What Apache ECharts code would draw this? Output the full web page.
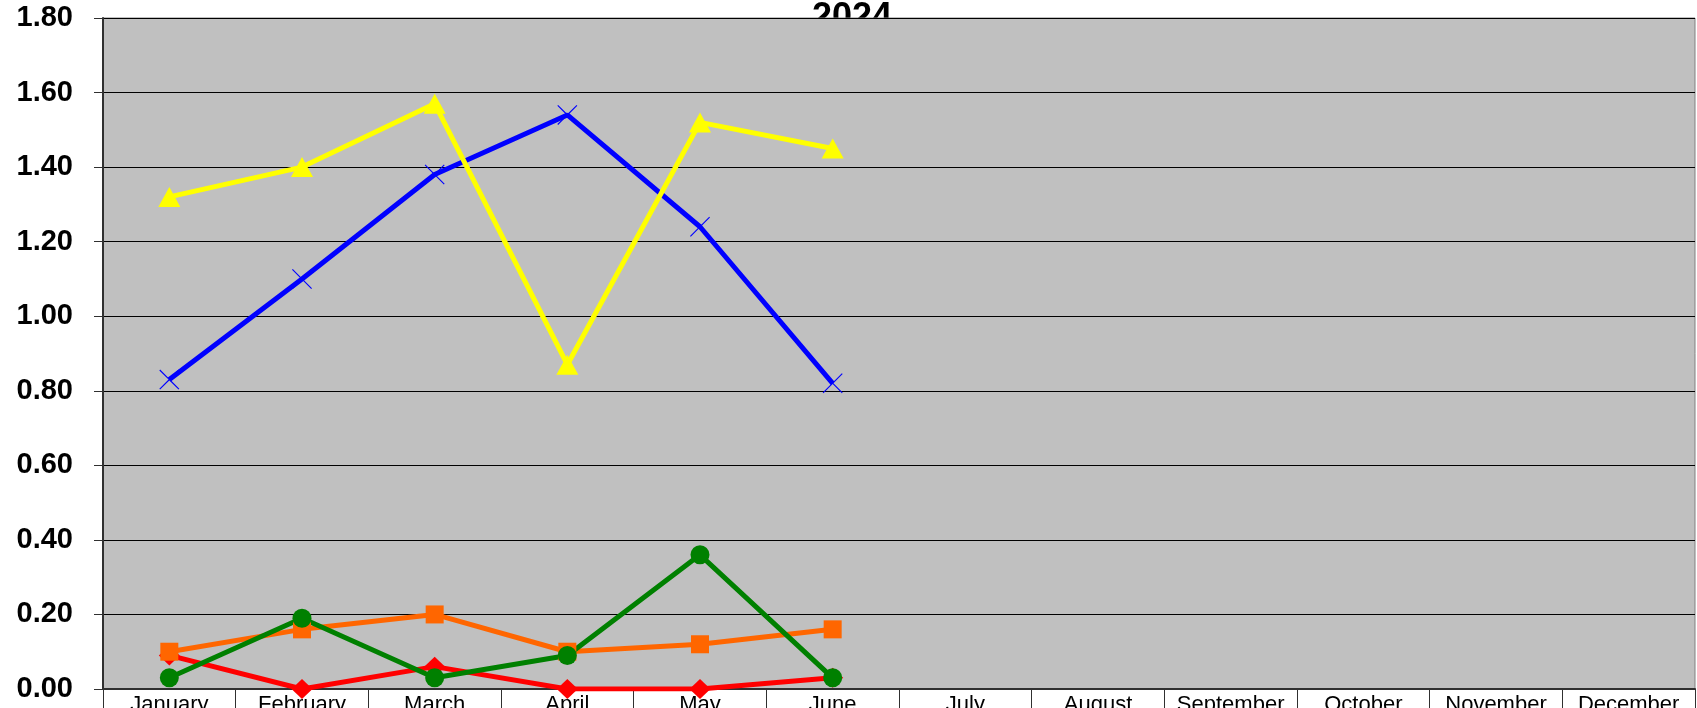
<!DOCTYPE html>
<html>
<head>
<meta charset="utf-8">
<script src="https://cdn.jsdelivr.net/npm/echarts@6/dist/echarts.min.js"></script>
<style>
  html, body { margin: 0; padding: 0; background: #fff; }
  #chart { width: 1697px; height: 708px; }
</style>
</head>
<body>
<div id="chart"></div>
<script>
// data
const months = ['January', 'February', 'March', 'April', 'May', 'June',
  'July', 'August', 'September', 'October', 'November', 'December'];
const redVals = [0.09, 0.00, 0.06, 0.00, 0.00, 0.03];
const orangeVals = [0.10, 0.16, 0.20, 0.10, 0.12, 0.16];
const greenVals = [0.03, 0.19, 0.03, 0.09, 0.36, 0.03];
const blueVals = [0.83, 1.10, 1.38, 1.54, 1.24, 0.82];
const yellowVals = [1.32, 1.40, 1.57, 0.87, 1.52, 1.45];
const yTicks = { min: 0, max: 1.8, step: 0.2 };

// thin "x" marker like the excel one
const xMark = 'path://M0,0.8L0.8,0L10,9.2L19.2,0L20,0.8L10.8,10L20,19.2L19.2,20L10,10.8L0.8,20L0,19.2L9.2,10Z';

function line(name, data, color, symbol, size) {
  return {
    name: name,
    type: 'line',
    data: data,
    symbol: symbol,
    symbolSize: size,
    showSymbol: true,
    lineStyle: { color: color, width: 5 },
    itemStyle: { color: color },
    emphasis: { disabled: true },
    animation: false
  };
}

const myChart = echarts.init(document.getElementById('chart'));
myChart.setOption({
  backgroundColor: '#fff',
  title: {
    text: '2024',
    left: 847,
    textAlign: 'center',
    top: -5,
    z: -1,
    textStyle: { fontFamily: 'Liberation Sans', fontSize: 36, fontWeight: 'bold', color: '#000' }
  },
  grid: {
    left: 103,
    right: 2,
    top: 18,
    bottom: 19,
    containLabel: false,
    outerBoundsMode: 'none',
    show: true,
    backgroundColor: '#c0c0c0',
    borderColor: '#808080',
    borderWidth: 1
  },
  xAxis: {
    type: 'category',
    data: months,
    boundaryGap: true,
    axisLine: { lineStyle: { color: '#303030', width: 2 } },
    axisTick: { show: true, interval: 0, length: 30, lineStyle: { color: '#303030', width: 1 } },
    axisLabel: {
      interval: 0,
      margin: 5,
      color: '#000',
      fontFamily: 'Liberation Sans',
      fontSize: 22
    },
    splitLine: { show: false }
  },
  yAxis: {
    type: 'value',
    min: yTicks.min,
    max: yTicks.max,
    interval: yTicks.step,
    axisLine: { show: true, lineStyle: { color: '#303030', width: 2 } },
    axisTick: { show: true, length: 9, lineStyle: { color: '#303030' } },
    axisLabel: {
      margin: 30,
      color: '#000',
      fontFamily: 'Liberation Sans',
      fontWeight: 'bold',
      fontSize: 29,
      formatter: v => v.toFixed(2)
    },
    splitLine: { show: true, lineStyle: { color: '#000', width: 1 } }
  },
  series: [
    line('red', redVals, '#ff0000', 'diamond', [21, 20]),
    line('orange', orangeVals, '#ff6600', 'rect', 18),
    line('green', greenVals, '#008000', 'circle', 19),
    line('blue', blueVals, '#0000ff', xMark, 20),
    line('yellow', yellowVals, '#ffff00', 'triangle', [22, 20])
  ]
});
</script>
</body>
</html>
